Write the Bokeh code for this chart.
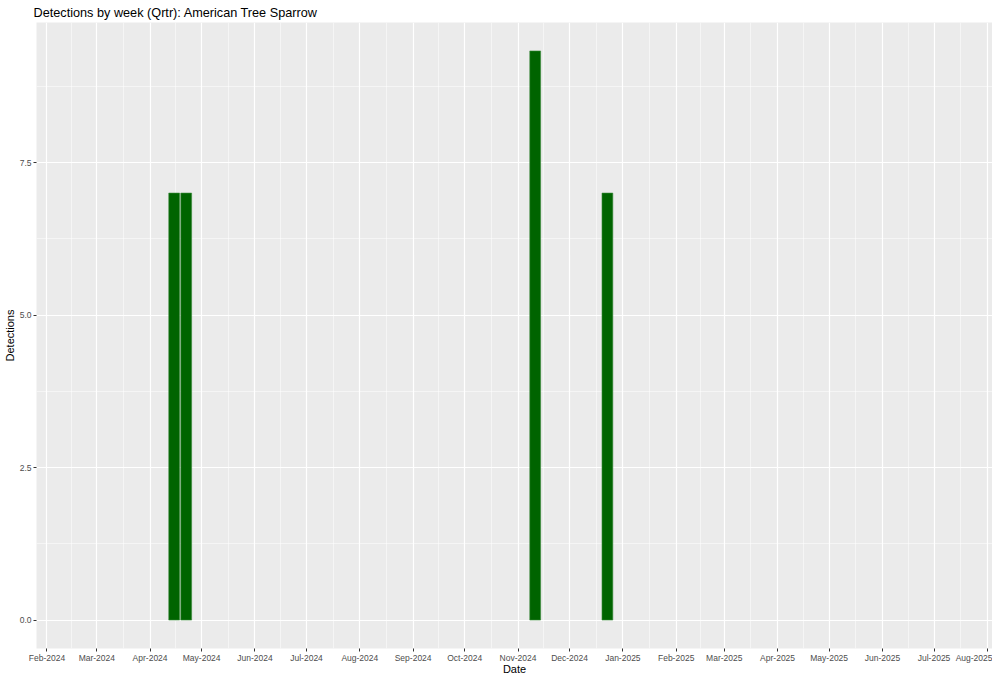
from datetime import datetime
from bokeh.plotting import figure
from bokeh.models import Range1d, FixedTicker, DatetimeTickFormatter, CustomJSTickFormatter
from bokeh.embed import file_html
from bokeh.resources import INLINE

# Data
week_starts = ["2024-04-15", "2024-04-22", "2024-11-11", "2024-12-23"]
detections = [7, 7, 9.33, 7]
month_ticks = ["2024-02-01", "2024-03-01", "2024-04-01", "2024-05-01", "2024-06-01",
               "2024-07-01", "2024-08-01", "2024-09-01", "2024-10-01", "2024-11-01",
               "2024-12-01", "2025-01-01", "2025-02-01", "2025-03-01", "2025-04-01",
               "2025-05-01", "2025-06-01", "2025-07-01", "2025-08-01"]
y_ticks = [0, 2.5, 5.0, 7.5]
y_minor = [1.25, 3.75, 6.25, 8.75]

EPOCH = datetime(1970, 1, 1)
def ms(d):
    return (d - EPOCH).total_seconds() * 1000.0

x_dates = [datetime.strptime(s, "%Y-%m-%d") for s in week_starts]
x_ms = [ms(d) for d in x_dates]
tick_ms = [ms(datetime.strptime(s, "%Y-%m-%d")) for s in month_ticks]
minor_ms = [(a + b) / 2 for a, b in zip(tick_ms[:-1], tick_ms[1:])]

FONT = "Liberation Sans"

p = figure(width=992, height=677, x_axis_type="datetime",
           output_backend="svg", toolbar_location=None,
           title="Detections by week (Qrtr): American Tree Sparrow",
           min_border_left=0, min_border_right=0, min_border_top=0, min_border_bottom=0)

p.x_range = Range1d(ms(datetime(2024, 1, 25, 22)), ms(datetime(2025, 8, 4)))
p.y_range = Range1d(-0.4665, 9.7965)

p.vbar(x=x_ms, top=detections, bottom=0, width=0.9 * 7 * 86400000,
       fill_color="#006400", line_color="#3a8a3a", line_width=0.6)

p.background_fill_color = "#EBEBEB"
p.border_fill_color = "white"
p.outline_line_color = None

p.title.text_font = FONT
p.title.text_font_size = "12.7px"
p.title.text_font_style = "normal"
p.title.text_color = "black"
p.title.offset = -3
p.title.standoff = 6

p.xaxis.ticker = FixedTicker(ticks=tick_ms, minor_ticks=minor_ms)
p.xaxis.formatter = DatetimeTickFormatter(days="%b-%Y", months="%b-%Y", years="%b-%Y",
                                          hours="%b-%Y", minutes="%b-%Y", seconds="%b-%Y",
                                          milliseconds="%b-%Y", microseconds="%b-%Y")
p.yaxis.ticker = FixedTicker(ticks=y_ticks, minor_ticks=y_minor)
p.yaxis.formatter = CustomJSTickFormatter(code="return tick.toFixed(1);")

for ax in (p.xaxis, p.yaxis):
    ax.axis_line_color = None
    ax.major_tick_line_color = "#333333"
    ax.major_tick_out = 3
    ax.major_tick_in = 0
    ax.minor_tick_line_color = None
    ax.major_label_text_font = FONT
    ax.major_label_text_font_size = "8.5px"
    ax.major_label_text_color = "#4D4D4D"
    ax.axis_label_text_font = FONT
    ax.axis_label_text_font_size = "11px"
    ax.axis_label_text_font_style = "normal"
    ax.axis_label_text_color = "black"
    ax.major_label_standoff = 1
    ax.axis_label_standoff = 1

p.xaxis.major_label_standoff = 0
p.xaxis.axis_label_standoff = -3

p.xaxis.axis_label = "Date"
p.yaxis.axis_label = "Detections"

for g in (p.xgrid, p.ygrid):
    g.grid_line_color = "white"
    g.grid_line_width = 1.2
    g.minor_grid_line_color = "white"
    g.minor_grid_line_width = 0.5

open("out.html", "w").write(file_html(p, INLINE))
